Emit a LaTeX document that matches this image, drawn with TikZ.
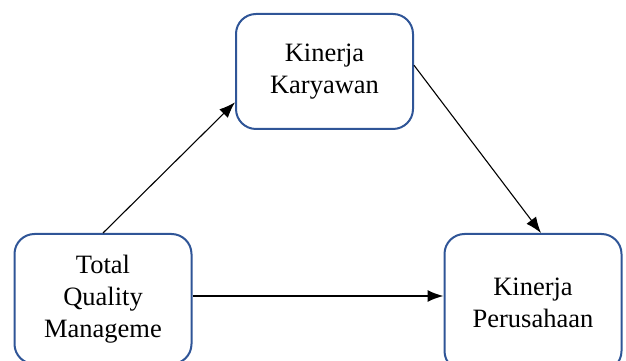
\documentclass[tikz,border=0pt]{standalone}
\usepackage{fontspec}
\setmainfont{Liberation Serif}
\usetikzlibrary{arrows.meta}
\definecolor{boxblue}{RGB}{47,85,151}
\begin{document}
\begin{tikzpicture}[x=1pt, y=1pt, arr/.style={-{Latex[length=16pt, width=12pt]}, line width=1.1pt}]
\tikzstyle{box}=[draw=boxblue, line width=2pt, rounded corners=20pt, align=center, inner sep=0pt,
  minimum width=177pt, font=\fontsize{26.5}{32}\selectfont]
\useasboundingbox (0,0) rectangle (626,361);
\node[box, minimum height=115pt] (kk) at (324.5,289.5){Kinerja\\Karyawan};
\node[box, minimum height=130pt] (tqm) at (103,62){Total\\Quality\\Manageme};
\node[box, minimum height=137pt] (pk) at (533,58.5){Kinerja\\Perusahaan};
\draw[arr] (tqm.north) -- (kk.199);
\draw[arr] (kk.4) -- ([xshift=8pt]pk.north);
\draw[arr, line width=1.6pt] (tqm.east |- 0,65) -- (pk.west |- 0,65);
\end{tikzpicture}
\end{document}
